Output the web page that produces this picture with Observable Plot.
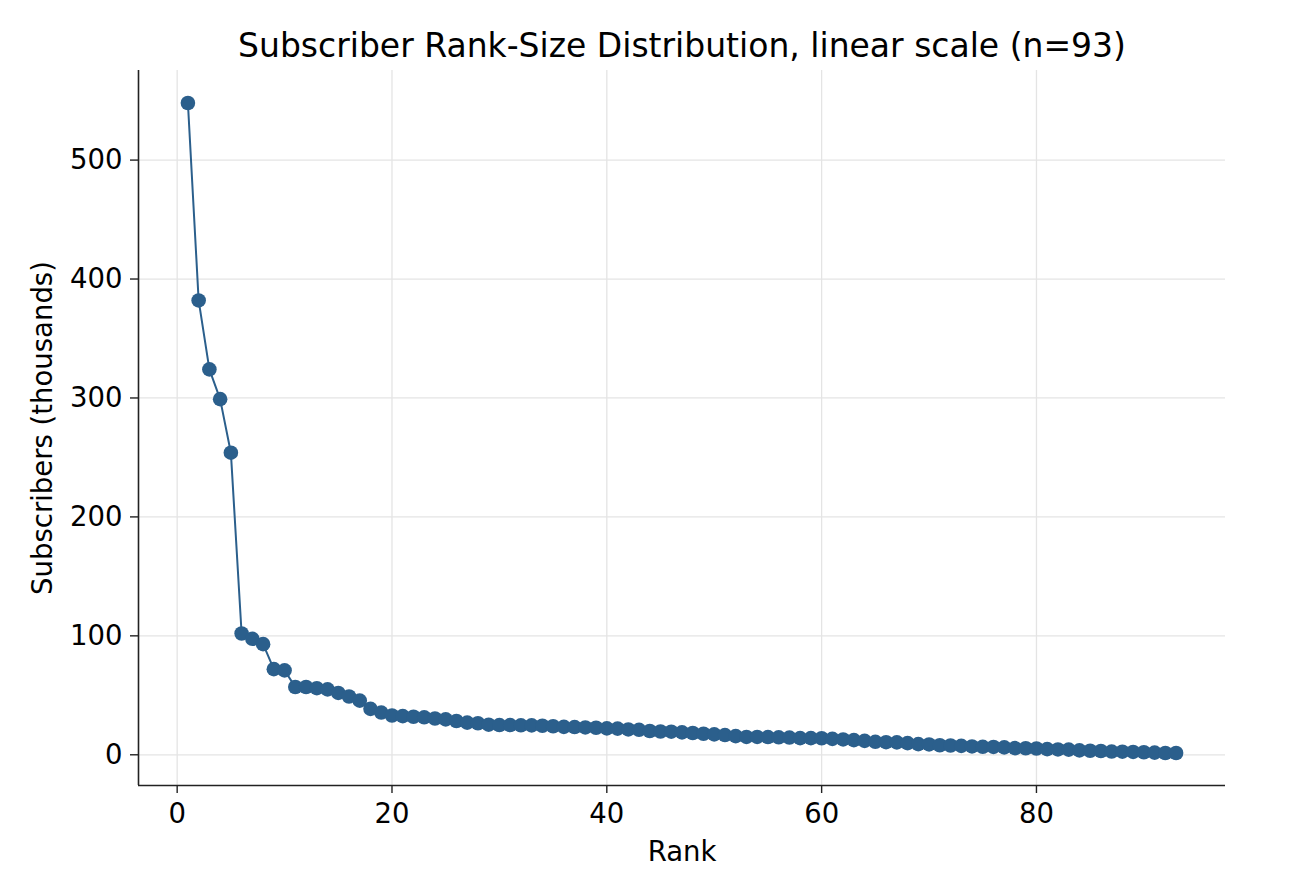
<!DOCTYPE html>
<html>
<head>
<meta charset="utf-8">
<script src="https://cdn.jsdelivr.net/npm/d3@7"></script>
<script src="https://cdn.jsdelivr.net/npm/@observablehq/plot@0.6"></script>
<style>
  html, body { margin: 0; padding: 0; background: #fff; }
  #chart svg { display: block; }
</style>
</head>
<body>
<div id="chart"></div>
<script>
const ranks = d3.range(1, 94);
const subscribers = [
  548, 382, 324, 299, 254, 102, 97.5, 93, 72, 71,
  57, 57, 56, 55, 52, 49, 45.5, 38.6, 35.5, 33,
  32.5, 32, 31.5, 30.5, 29.8, 28.4, 27, 26.5, 25.3, 25,
  25, 24.8, 24.7, 24.4, 24, 23.5, 23.3, 23, 22.7, 22.2,
  22, 21.3, 21, 20, 19.6, 19.4, 18.8, 18.3, 17.7, 17.2,
  16.6, 15.7, 15, 15, 14.9, 14.7, 14.5, 14, 14, 13.9,
  13.4, 12.9, 12.3, 11.7, 10.9, 10.6, 10.4, 9.8, 9, 8.7,
  8, 7.8, 7.5, 7, 6.7, 6.6, 6.2, 5.6, 5.5, 5.3,
  4.8, 4.5, 4.3, 3.7, 3.4, 3.2, 2.7, 2.6, 2.4, 2.1,
  1.8, 1.5, 1.5
];
const xTicks = [0, 20, 40, 60, 80];
const yTicks = [0, 100, 200, 300, 400, 500];
const titleText = "Subscriber Rank-Size Distribution, linear scale (n=93)";
const xLabel = "Rank";
const yLabel = "Subscribers (thousands)";

const data = ranks.map((r, i) => ({rank: r, subs: subscribers[i]}));

function padded(lo, hi) { const m = (hi - lo) * 0.05; return [lo - m, hi + m]; }
const xDomain = padded(d3.min(ranks), d3.max(ranks));
const yDomain = padded(d3.min(subscribers), d3.max(subscribers));

const color = "#2b5f8c";
const font = "DejaVu Sans, sans-serif";

const chart = Plot.plot({
  width: 1306,
  height: 894,
  marginLeft: 138,
  marginRight: 81,
  marginTop: 70,
  marginBottom: 109,
  style: {fontFamily: font, background: "#fff", color: "#000"},
  x: {domain: xDomain},
  y: {domain: yDomain},
  marks: [
    Plot.gridX(xTicks, {stroke: "#e4e4e4", strokeOpacity: 1, strokeWidth: 1.3}),
    Plot.gridY(yTicks, {stroke: "#e4e4e4", strokeOpacity: 1, strokeWidth: 1.3}),
    Plot.ruleX([xDomain[0]], {stroke: "#222", strokeWidth: 1.6}),
    Plot.ruleY([yDomain[0]], {stroke: "#222", strokeWidth: 1.6}),
    Plot.axisX({ticks: xTicks, tickSize: 8, tickPadding: 10, fontSize: 27.5, label: null, stroke: "#222", strokeWidth: 1.4}),
    Plot.axisY({ticks: yTicks, tickSize: 8, tickPadding: 8, fontSize: 27.5, label: null, stroke: "#222", strokeWidth: 1.4}),
    Plot.line(data, {x: "rank", y: "subs", stroke: color, strokeWidth: 2}),
    Plot.dot(data, {x: "rank", y: "subs", fill: color, r: 7.3, stroke: "none"}),
    Plot.text([titleText], {frameAnchor: "top", lineAnchor: "middle", dy: -24, fontSize: 33, fill: "#000", text: d => d}),
    Plot.text([xLabel], {frameAnchor: "bottom", lineAnchor: "middle", dy: 67, fontSize: 27.5, fill: "#000", text: d => d}),
    Plot.text([yLabel], {frameAnchor: "left", textAnchor: "middle", lineAnchor: "middle", dx: -95, rotate: -90, fontSize: 27.5, fill: "#000", text: d => d})
  ]
});
document.getElementById("chart").appendChild(chart);
</script>
</body>
</html>
